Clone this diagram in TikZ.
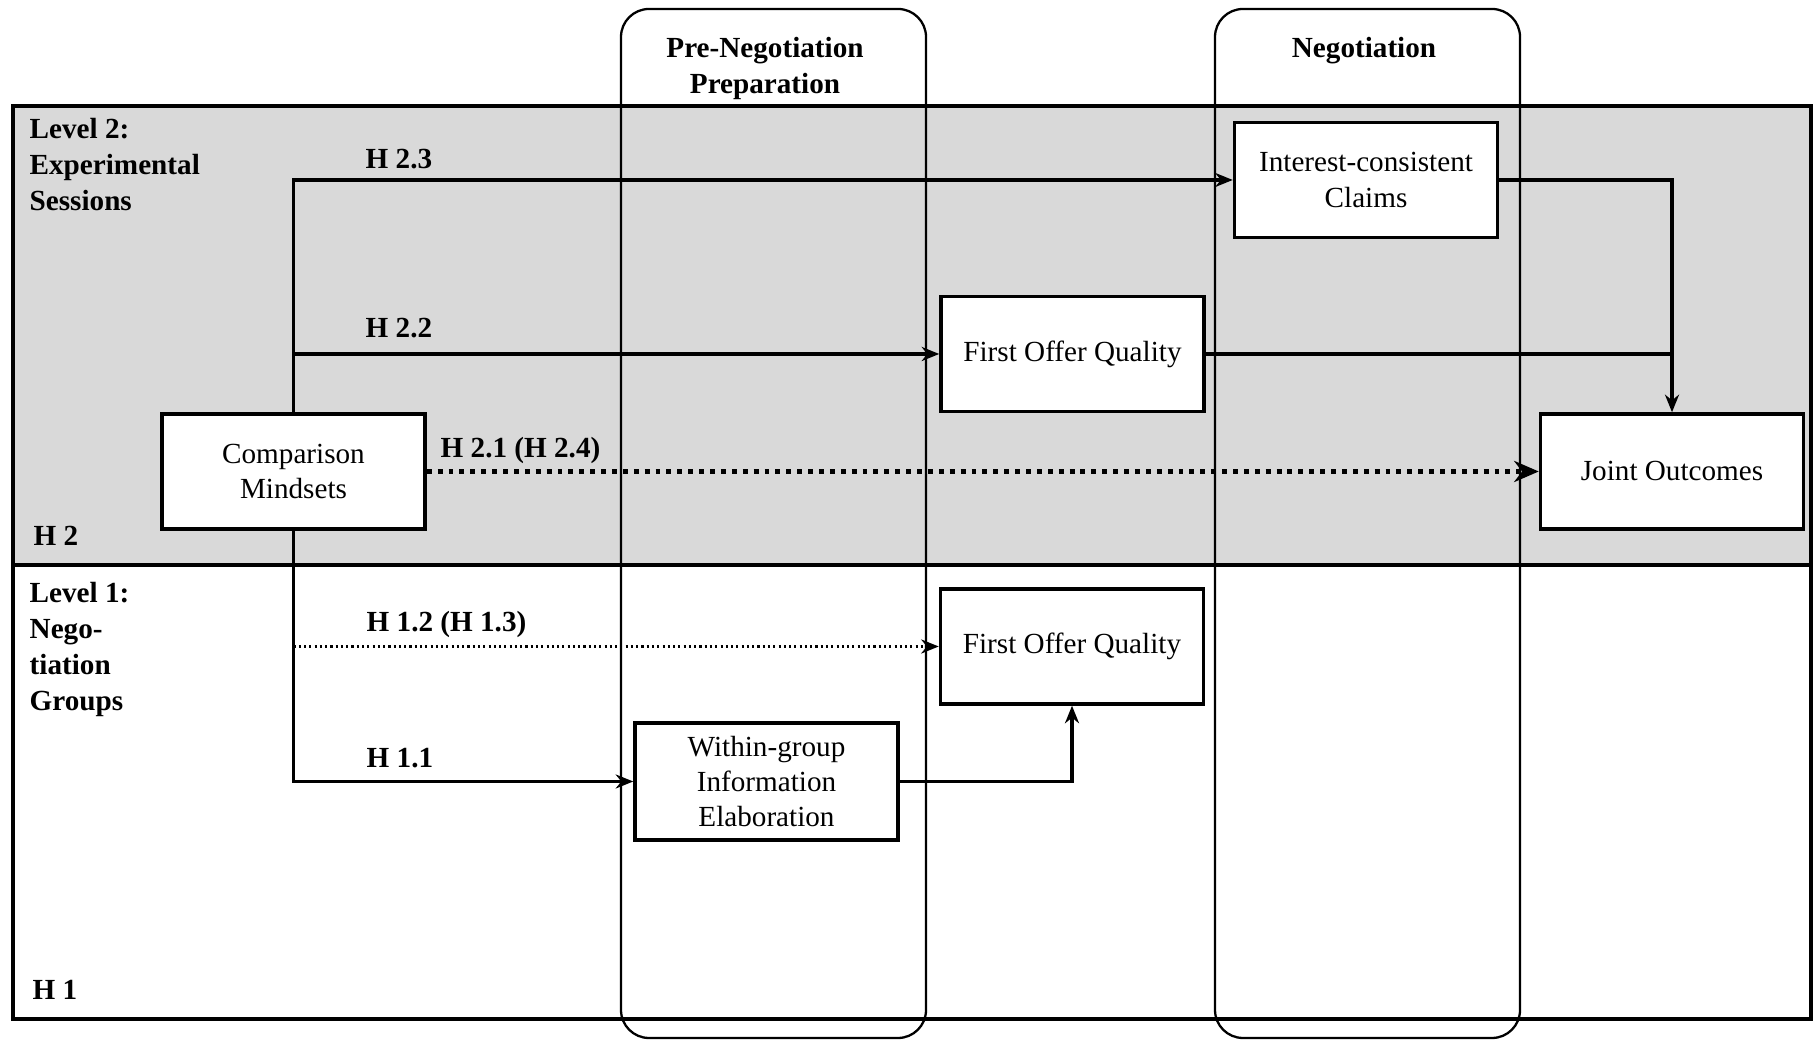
\documentclass[tikz,border=0pt]{standalone}
\usepackage{fontspec}
\setmainfont{Liberation Serif}
\usetikzlibrary{arrows.meta,positioning}
\definecolor{lvgray}{RGB}{217,217,217}

\begin{document}
\begin{tikzpicture}[
    box/.style={draw, line width=1pt, fill=white, minimum width=2.63cm, minimum height=1.15cm, align=center, inner sep=1pt, font=\fontsize{8.3}{10}\selectfont},
    hyp/.style={anchor=base west, inner sep=0pt, font=\fontsize{8.3}{10}\selectfont\bfseries},
    lvl/.style={anchor=north west, align=left, inner sep=0pt, font=\fontsize{8.3}{10.2}\selectfont\bfseries},
    hdr/.style={anchor=north, align=center, inner sep=0pt, font=\fontsize{8.3}{10.2}\selectfont\bfseries},
    phase/.style={draw, line width=0.65pt, rounded corners=0.28cm},
    arr/.style={-{Stealth[length=5pt,width=4pt]}, line width=0.95pt},
    dotarr/.style={-{Stealth[length=7pt,width=6pt]}, line width=1.3pt, dash pattern=on 1.4pt off 1.7pt},
    thinarr/.style={-{Stealth[length=5pt,width=4pt]}, line width=0.85pt, dash pattern=on 0.6pt off 0.9pt}
]
\useasboundingbox (0,0) rectangle (18.13,10.40);

\fill[lvgray] (0.13,4.75) rectangle (18.11,9.34);
\draw[phase] (6.21,0.02) rectangle (9.26,10.31);
\draw[phase] (12.15,0.02) rectangle (15.20,10.31);
\draw[line width=1pt] (0.13,0.21) rectangle (18.11,9.34);
\draw[line width=1pt] (0.13,4.75) -- (18.11,4.75);

\node[hdr] (hpre) at (7.65,10.03) {Pre-Negotiation\\Preparation};
\node[hdr] (hneg) at (13.64,10.03) {Negotiation};

\node[lvl] (lv2) at (0.29,9.22) {Level 2:\\Experimental\\Sessions};
\node[lvl] (lv1) at (0.29,4.58) {Level 1:\\Nego-\\tiation\\Groups};
\node[hyp] (h2) at (0.33,4.94) {H 2};
\node[hyp] (h1) at (0.32,0.40) {H 1};

\node[box] (cm) at (2.935,5.685) {Comparison\\Mindsets};
\node[box] (ic) at (13.66,8.60) {Interest-consistent\\Claims};
\node[box] (foq2) at (10.725,6.86) {First Offer Quality};
\node[box] (jo) at (16.72,5.685) {Joint Outcomes};
\node[box] (foq1) at (10.72,3.935) {First Offer Quality};
\node[box, minimum height=1.17cm] (wie) at (7.665,2.585) {Within-group\\Information\\Elaboration};

\node[hyp] (l23) at (3.65,8.71) {H 2.3};
\node[hyp] (l22) at (3.65,7.025) {H 2.2};
\node[hyp] (l21) at (4.40,5.82) {H 2.1 (H 2.4)};
\node[hyp] (l12) at (3.66,4.08) {H 1.2 (H 1.3)};
\node[hyp] (l11) at (3.66,2.72) {H 1.1};

\draw[arr] (cm.north) |- (ic.west);
\draw[arr] (cm.north |- foq2.west) -- (foq2.west);
\draw[dotarr] (cm.east) -- (jo.west);
\draw[arr] (ic.east) -| (jo.north);
\draw[line width=0.95pt] (foq2.east) -- (jo.north |- foq2.east);
\draw[arr] (cm.south) |- (wie.west);
\draw[thinarr] (cm.south |- foq1.west) -- (foq1.west);
\draw[arr] (wie.east) -| (foq1.south);
\end{tikzpicture}
\end{document}
